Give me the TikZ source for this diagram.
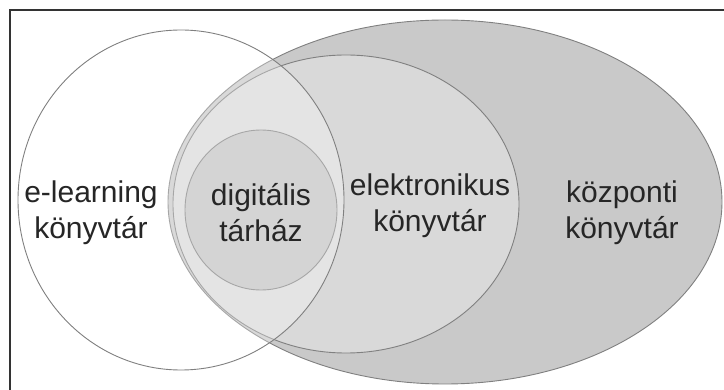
\documentclass[tikz,border=0pt]{standalone}
\usepackage{fontspec}
\setmainfont{Liberation Sans}
\begin{document}
\begin{tikzpicture}[x=1pt,y=-1pt,
  region/.style={draw=black!50, line width=0.9pt},
  lbl/.style={align=center, font=\fontsize{30}{36}\selectfont, text=black!85, inner sep=0pt}]
\useasboundingbox[fill=white] (0,0) rectangle (724,390);
% frame
\draw[line width=2.2pt, black!80] (10,392) -- (10,10) -- (726,10);
% központi könyvtár
\draw[region, fill=black!21] (445,202) ellipse [x radius=277, y radius=182];
% elektronikus könyvtár
\draw[region, fill=black!15] (346,204) ellipse [x radius=173, y radius=149];
% digitális tárház
\draw[region, fill=black!24] (261,210) ellipse [x radius=76, y radius=80];
% e-learning könyvtár
\draw[region, fill=white, fill opacity=0.3] (181,200) ellipse [x radius=163, y radius=170];
% labels
\node[lbl] (el) at (91,213) {e-learning\\könyvtár};
\node[lbl] (dt) at (261,213) {digitális\\tárház};
\node[lbl] (ek) at (430,206) {elektronikus\\könyvtár};
\node[lbl] (kk) at (622,213) {központi\\könyvtár};
\end{tikzpicture}
\end{document}
